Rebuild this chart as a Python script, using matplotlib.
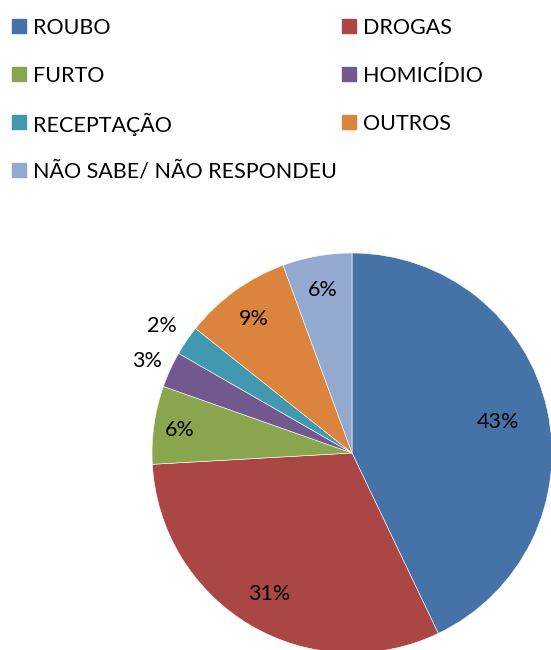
import matplotlib.pyplot as plt
from matplotlib.patches import Rectangle
import numpy as np

# Data (percent of respondents).
labels = ["ROUBO", "DROGAS", "FURTO", "HOMICÍDIO", "RECEPTAÇÃO", "OUTROS",
          "NÃO SABE/ NÃO RESPONDEU"]
values = [42.9, 31.2, 6.3, 2.9, 2.4, 8.7, 5.6]
colors = ["#4572A7", "#AA4643", "#89A54E", "#71588F", "#4198AF", "#DB843D",
          "#93A9CF"]

# Distance of each percentage label from the centre (in radii).
label_r = [0.75, 0.81, 0.87, 1.13, 1.15, 0.84, 0.84]

W, H = 551, 650
fig = plt.figure(figsize=(W / 100, H / 100), dpi=100)
font = "Lato"
fsize = 15.5

# Pie: centre (352, 453) px, radius 200 px.
cx, cy, r = 352, 453, 200
ax = fig.add_axes([(cx - r) / W, (H - cy - r) / H, 2 * r / W, 2 * r / H])
wedges, _ = ax.pie(values, colors=colors, startangle=90, counterclock=False,
                   radius=1, wedgeprops=dict(edgecolor="white", linewidth=0.4))
ax.set_xlim(-1, 1)
ax.set_ylim(-1, 1)
ax.set_aspect("equal")
ax.axis("off")

for w, v, lr in zip(wedges, values, label_r):
    ang = np.deg2rad((w.theta1 + w.theta2) / 2)
    ax.text(lr * np.cos(ang), lr * np.sin(ang), f"{round(v)}%",
            ha="center", va="center_baseline", fontsize=fsize, family=font,
            clip_on=False)

# Legend laid out as in the original: two columns, last item alone.
rows_y = [26, 74, 122, 170]
col_x = [12, 342]
for i, (lab, col) in enumerate(zip(labels, colors)):
    x = col_x[i % 2]
    y = rows_y[i // 2]
    fig.patches.append(Rectangle((x / W, (H - y - 7) / H), 14 / W, 14 / H,
                                 transform=fig.transFigure, color=col))
    fig.text((x + 21) / W, (H - y) / H, lab, ha="left",
             va="center_baseline", fontsize=fsize, family=font)

fig.savefig("out.png", dpi=100)
